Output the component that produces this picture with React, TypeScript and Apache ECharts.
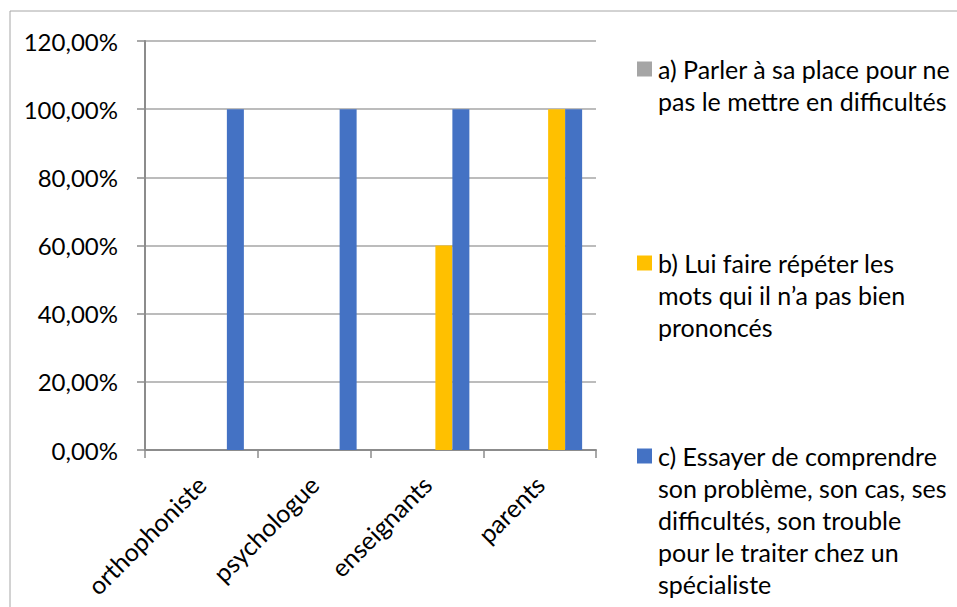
import React, { useEffect, useRef } from "react";
import * as echarts from "echarts";

const categories = ["orthophoniste", "psychologue", "enseignants", "parents"];
const legendLinesA = ["a) Parler à sa place pour ne", "pas le mettre en difficultés"];
const legendLinesB = ["b) Lui faire répéter les", "mots qui il n’a pas bien", "prononcés"];
const legendLinesC = [
  "c) Essayer de comprendre",
  "son problème, son cas, ses",
  "difficultés, son trouble",
  "pour le traiter chez un",
  "spécialiste",
];
const valuesA = [0, 0, 0, 0];
const valuesB = [0, 0, 60, 100];
const valuesC = [100, 100, 100, 100];
const emptyValues = [null, null, null, null];
const yMin = 0;
const yMax = 120;
const yStep = 20;

const FONT = "Lato";
const FS_AXIS = 24;
const FS_LEG = 25;
const LH = 32;

const seriesDefs = [
  { name: legendLinesA.join(" "), lines: legendLinesA, data: valuesA, color: "#A5A5A5", firstLineY: 69 },
  { name: legendLinesB.join(" "), lines: legendLinesB, data: valuesB, color: "#FFC000", firstLineY: 263 },
  { name: legendLinesC.join(" "), lines: legendLinesC, data: valuesC, color: "#4472C4", firstLineY: 456 },
];

export default function App() {
  const ref = useRef<HTMLDivElement>(null);
  useEffect(() => {
    if (!ref.current) return;
    const chart = echarts.init(ref.current, null, { renderer: "svg" });
    const legendGraphics = seriesDefs.map((s) => ({
      type: "group",
      silent: true,
      children: [
        {
          type: "rect",
          shape: { x: 637, y: s.firstLineY - 7.5, width: 15, height: 15 },
          style: { fill: s.color },
        },
        {
          type: "text",
          x: 658,
          y: s.firstLineY - LH / 2,
          style: {
            text: s.lines.join("\n"),
            fontFamily: FONT,
            fontSize: FS_LEG,
            lineHeight: LH,
            fill: "#000",
            verticalAlign: "top",
            align: "left",
          },
        },
      ],
    }));
    const placeholder = (id: string) => ({
      type: "bar",
      id,
      name: id,
      data: emptyValues,
      barWidth: 17,
      barGap: "0%",
      silent: true,
    });
    chart.setOption({
      animation: false,
      backgroundColor: "#fff",
      textStyle: { fontFamily: FONT },
      graphic: [
        {
          type: "rect",
          shape: { x: 10, y: 11, width: 1200, height: 900 },
          style: { fill: "none", stroke: "#A6A6A6", lineWidth: 1 },
          silent: true,
          z: -1,
        },
        ...legendGraphics,
      ],
      grid: { left: 145, top: 41, width: 451, height: 409, containLabel: false },
      xAxis: {
        type: "category",
        data: categories,
        axisLine: { show: true, lineStyle: { color: "#8C8C8C", width: 2 } },
        axisTick: { show: true, length: 8, lineStyle: { color: "#8C8C8C", width: 1.5 } },
        axisLabel: {
          rotate: 45,
          margin: 30,
          fontFamily: FONT,
          fontSize: FS_LEG,
          color: "#000",
          interval: 0,
        },
        splitLine: { show: false },
      },
      yAxis: {
        type: "value",
        min: yMin,
        max: yMax,
        interval: yStep,
        axisLine: { show: true, lineStyle: { color: "#8C8C8C", width: 2 } },
        axisTick: { show: true, length: 8, lineStyle: { color: "#8C8C8C", width: 1.5 } },
        axisLabel: {
          margin: 27,
          fontFamily: FONT,
          fontSize: FS_AXIS,
          color: "#000",
          formatter: (v: number) => v.toFixed(2).replace(".", ",") + "%",
        },
        splitLine: { show: true, lineStyle: { color: "#A6A6A6", width: 1.5 } },
      },
      series: [
        placeholder("p1"),
        placeholder("p2"),
        ...seriesDefs.map((s) => ({
          type: "bar",
          name: s.name,
          data: s.data,
          barWidth: 17,
          barGap: "0%",
          itemStyle: { color: s.color },
        })),
      ],
    });
    return () => chart.dispose();
  }, []);
  return (
    <div
      ref={ref}
      style={{ position: "fixed", left: 0, top: 0, width: 957, height: 607 }}
    />
  );
}
